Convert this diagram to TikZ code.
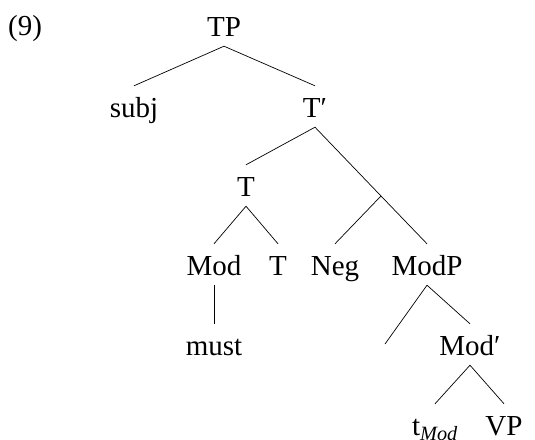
\documentclass[tikz,border=0pt]{standalone}
\usepackage{fontspec}
\setmainfont{Liberation Serif}
\begin{document}
\begin{tikzpicture}[x=1pt,y=-1pt,
  lbl/.style={anchor=base,inner sep=0pt,text height=31pt,text depth=10pt,font=\fontsize{29}{34}\selectfont},
  leaf/.style={lbl,text depth=0pt},
  edge/.style={line width=0.7pt,black}]
\useasboundingbox (0,0) rectangle (535,439);
\node[lbl,anchor=base west] (ex) at (8,35) {(9)};
\node[lbl] (TP) at (224,36) {TP};
\node[lbl] (subj) at (134,117) {subj};
\node[lbl] (Tbar) at (315,117) {T′};
\node[lbl] (T) at (246,196) {T};
\coordinate (br) at (381,196);
\node[lbl] (Mod) at (214,275) {Mod};
\node[lbl] (T2) at (278,275) {T};
\node[lbl] (Neg) at (335,275) {Neg};
\node[lbl] (ModP) at (427,275) {ModP};
\node[lbl] (must) at (214,355) {must};
\coordinate (empty) at (385,344);
\node[lbl] (Modbar) at (470,355) {Mod′};
\node[leaf] (tMod) at (435,435) {t\textsubscript{\itshape Mod}};
\node[leaf] (VP) at (504,435) {VP};
\draw[edge] (TP.south) -- (subj.north);
\draw[edge] (TP.south) -- (Tbar.north);
\draw[edge] (Tbar.south) -- (T.north);
\draw[edge] (Tbar.south) -- (br);
\draw[edge] (T.south) -- (Mod.north);
\draw[edge] (T.south) -- (T2.north);
\draw[edge] (br) -- (Neg.north);
\draw[edge] (br) -- (ModP.north);
\draw[edge] (Mod.south) -- (must.north);
\draw[edge] (ModP.south) -- (empty);
\draw[edge] (ModP.south) -- (Modbar.north);
\draw[edge] (Modbar.south) -- (tMod.north);
\draw[edge] (Modbar.south) -- (VP.north);
\end{tikzpicture}
\end{document}
